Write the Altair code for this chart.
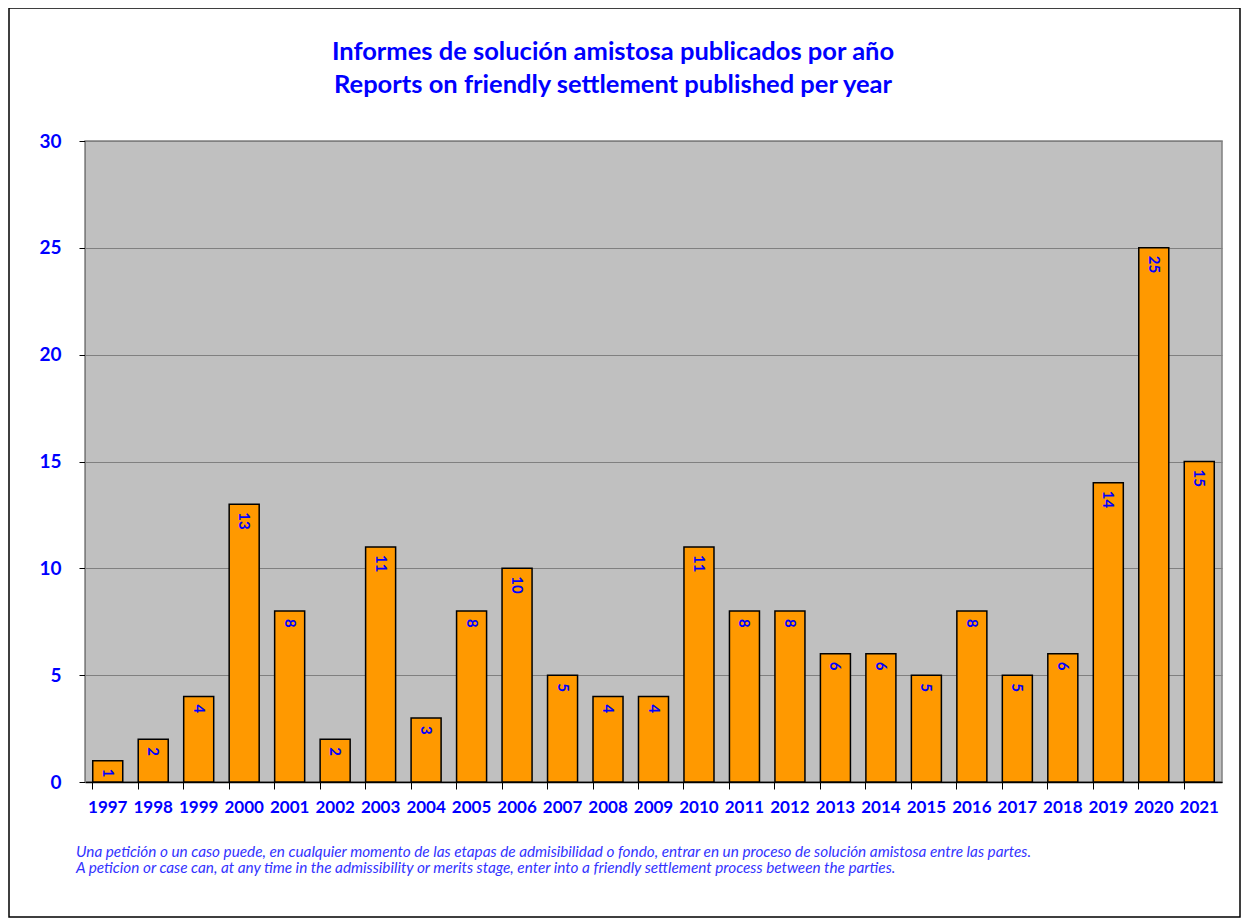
import altair as alt
import pandas as pd

years = [str(y) for y in range(1997, 2022)]
counts = [1, 2, 4, 13, 8, 2, 11, 3, 8, 10, 5, 4, 4, 11, 8, 8, 6, 6, 5, 8, 5, 6, 14, 25, 15]
title_lines = ["Informes de solución amistosa publicados por año",
               "Reports on friendly settlement published per year"]
footnote_lines = ["Una petición o un caso puede, en cualquier momento de las etapas de admisibilidad o fondo, entrar en un proceso de solución amistosa entre las partes.",
                  "A peticion or case can, at any time in the admissibility or merits stage, enter into a friendly settlement process between the parties."]

df = pd.DataFrame({"year": years, "count": counts})
FONT = "Lato"
BLUE = "#0000ff"

x = alt.X("year:N", sort=years, title=None,
          scale=alt.Scale(paddingInner=0.34, paddingOuter=0.17),
          axis=alt.Axis(labelAngle=0, labelFont=FONT, labelFontSize=17, labelFontWeight="bold",
                        labelColor=BLUE, labelPadding=10, bandPosition=0, tickColor="#000000",
                        tickSize=7, domainColor="#000000", domainWidth=1.5, grid=False))
y = alt.Y("count:Q", title=None,
          scale=alt.Scale(domain=[0, 30], nice=False),
          axis=alt.Axis(values=[0, 5, 10, 15, 20, 25, 30], labelFont=FONT, labelFontSize=19,
                        labelFontWeight="bold", labelColor=BLUE, labelPadding=18,
                        tickColor="#000000", tickSize=6, domainColor="#808080",
                        gridColor="#808080", gridWidth=1))

base = alt.Chart(df)
bars = base.mark_bar(color="#ff9900", stroke="#000000", strokeWidth=1.5).encode(x=x, y=y)
labels = base.mark_text(angle=90, align="left", baseline="middle", dx=8, font=FONT,
                        fontSize=15, fontWeight="bold", color=BLUE).encode(
    x=alt.X("year:N", sort=years), y="count:Q", text="count:Q")

border = alt.Chart(pd.DataFrame({"a": [0]})).mark_rect(
    fill="#ffffff", fillOpacity=0, stroke="#000000", strokeWidth=1.5).encode(
    x=alt.value(-76), x2=alt.value(1155), y=alt.value(-133), y2=alt.value(776))

title_df = pd.DataFrame({"t": title_lines, "yy": [-89, -56]})
title = alt.Chart(title_df).mark_text(
    align="center", baseline="middle", font=FONT, fontSize=25.5, fontWeight="bold",
    color=BLUE).encode(x=alt.value(528), y=alt.Y("yy:Q", scale=None), text="t:N")

note_df = pd.DataFrame({"t": footnote_lines, "yy": [711, 727]})
note = alt.Chart(note_df).mark_text(
    align="left", baseline="middle", font=FONT, fontSize=15.3, fontStyle="italic",
    color="#3333ff").encode(
    x=alt.value(-9), y=alt.Y("yy:Q", scale=None), text="t:N")

chart = alt.layer(bars, labels, border, title, note).properties(
    width=1137, height=641,
    autosize=alt.AutoSizeParams(type="none"),
    padding={"left": 77, "top": 133, "right": 20, "bottom": 137},
).configure(background="#ffffff").configure_view(fill="#c0c0c0", stroke="#808080", strokeWidth=1.5)

chart.save("out.html", embed_options={"renderer": "svg", "actions": False})
